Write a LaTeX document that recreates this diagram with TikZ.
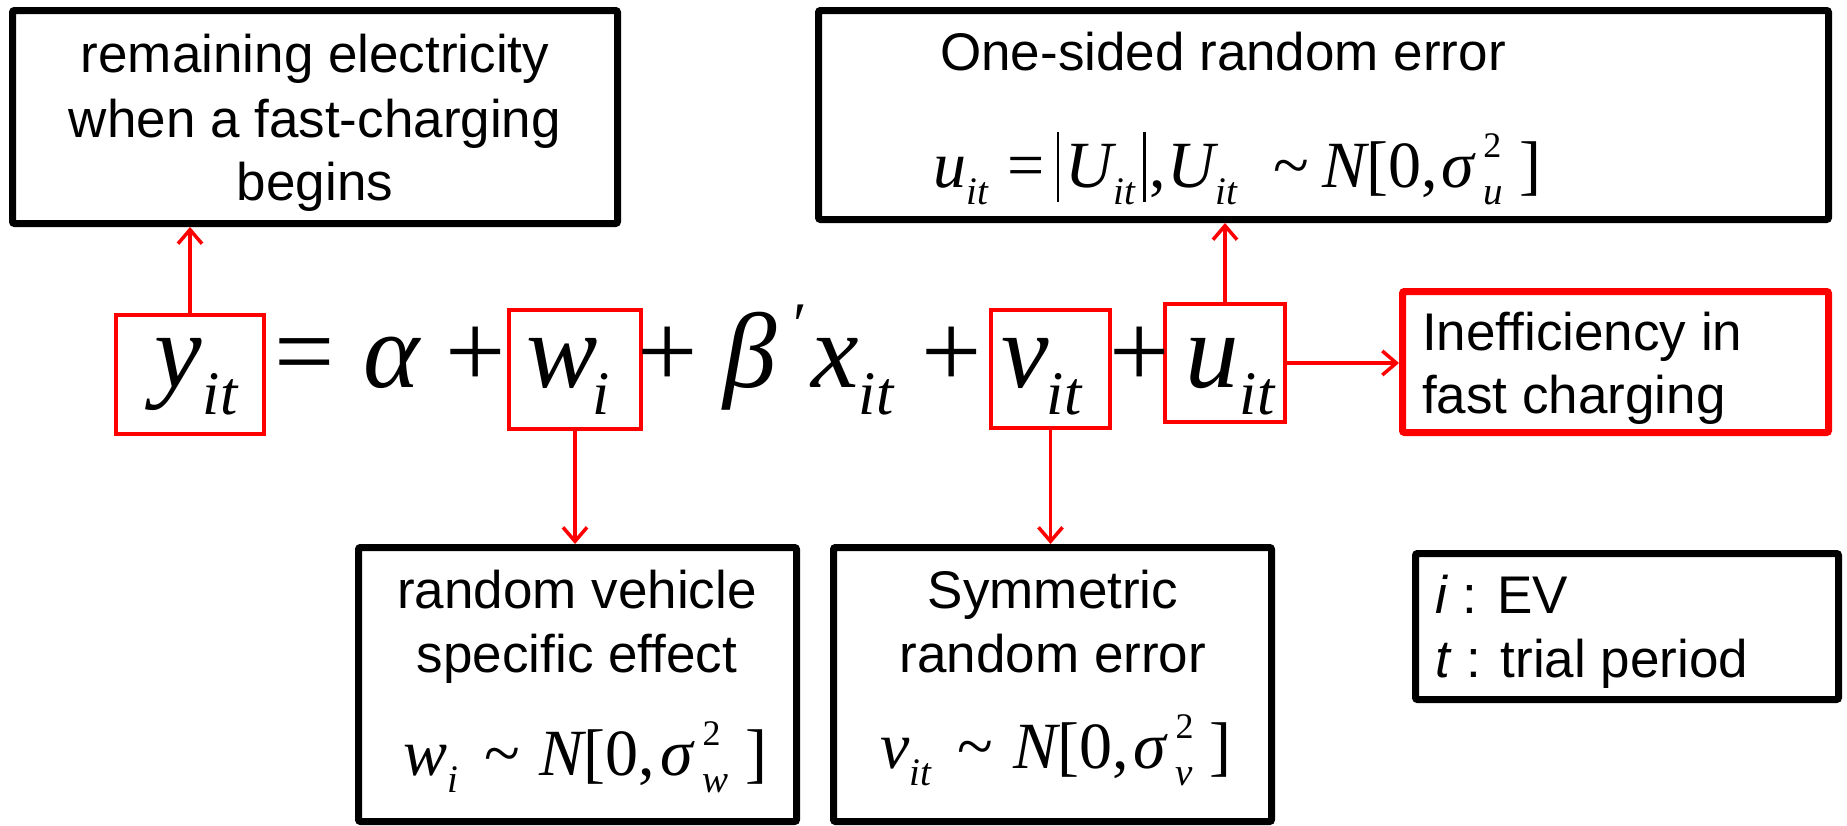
\documentclass[tikz,border=0pt]{standalone}
\usepackage{fontspec}
\setmainfont{Liberation Sans}
\newfontfamily\tms{Liberation Serif}
\usetikzlibrary{arrows.meta}
\newcommand\fsub[1]{\raisebox{-0.26em}{\fontsize{39}{39}\selectfont\itshape #1}}
\newcommand\fss[2]{\hspace{0.14em}\rlap{\raisebox{0.45em}{\fontsize{36}{36}\selectfont #1}}\raisebox{-0.27em}{\fontsize{39}{39}\selectfont\itshape #2}}
\newcommand\tld{\symbol{126}}
\newcommand\vbar{\hspace{0.06em}\rule[-15pt]{2.6pt}{70pt}\hspace{0.06em}}
\tikzset{
  blackbox/.style={draw=black, line width=7pt, rounded corners=2pt, inner sep=0pt, outer sep=0pt},
  redbox/.style={draw=red, line width=4pt, inner sep=0pt, outer sep=0pt},
  redbig/.style={draw=red, line width=7pt, rounded corners=2pt, inner sep=0pt, outer sep=0pt},
  arr/.style={draw=red, line width=3.5pt, -{Straight Barb[length=14pt,width=24pt]}},
  lbl/.style={inner sep=0pt, anchor=base, font=\fontsize{53}{60}\selectfont},
  lbll/.style={inner sep=0pt, anchor=base west, font=\fontsize{53}{60}\selectfont},
  eq/.style={inner sep=0pt, anchor=base, font=\tms\itshape\fontsize{107}{107}\selectfont},
  eqr/.style={inner sep=0pt, anchor=base, font=\tms\fontsize{107}{107}\selectfont},
  eqs/.style={inner sep=0pt, anchor=base, font=\tms\itshape\fontsize{62}{62}\selectfont},
  eqp/.style={inner sep=0pt, anchor=base, font=\tms\fontsize{62}{62}\selectfont},
  fm/.style={inner sep=0pt, anchor=base west, font=\tms\fontsize{66}{66}\selectfont},
}
\begin{document}
\begin{tikzpicture}[x=1pt,y=-1pt]
\useasboundingbox (0,0) rectangle (1847,825);
% boxes
\node[blackbox, minimum width=605pt, minimum height=213pt] (tl) at (315,117) {};
\node[blackbox, minimum width=1010pt, minimum height=209pt] (os) at (1323.5,115) {};
\node[redbig, minimum width=426pt, minimum height=141pt] (ineff) at (1615.5,362) {};
\node[blackbox, minimum width=438pt, minimum height=274pt] (rv) at (577.5,684.5) {};
\node[blackbox, minimum width=438pt, minimum height=274pt] (sym) at (1052.5,684.5) {};
\node[blackbox, minimum width=423pt, minimum height=146pt] (leg) at (1627,626.5) {};
\node[redbox, minimum width=148pt, minimum height=119pt] (by) at (190,374.5) {};
\node[redbox, minimum width=132pt, minimum height=119pt] (bw) at (575,369.5) {};
\node[redbox, minimum width=119pt, minimum height=118pt] (bv) at (1050.5,369) {};
\node[redbox, minimum width=120pt, minimum height=118pt] (bu) at (1225,363) {};
% connectors
\draw[arr, shorten >=3.5pt] (by.north) -- (by.north |- tl.south);
\draw[arr, shorten >=3.5pt] (bu.north) -- (bu.north |- os.south);
\draw[arr, shorten >=3.5pt] (bw.south) -- (bw.south |- rv.north);
\draw[arr, shorten >=3.5pt] (bv.south) -- (bv.south |- sym.north);
\draw[arr, shorten >=3.5pt] (bu.east) -- (bu.east -| ineff.west);
% box texts
\node[lbl] (tl1) at (315,72) {remaining electricity};
\node[lbl] (tl2) at (315,137) {when a fast-charging};
\node[lbl] (tl3) at (315,200) {begins};
\node[lbl] (os1) at (1223,70) {One-sided random error};
\node[fm] (os2) at (933,187) {{\itshape u}\fsub{it}\hspace{0.3em}=\hspace{0.12em}\vbar\hspace{0.04em}{\itshape U}\fsub{it}\hspace{0.06em}\vbar,\hspace{0.02em}{\itshape U}\fsub{it}\hspace{0.55em}\tld\hspace{0.2em}{\itshape N}[0,\hspace{0.06em}{\itshape σ}\fss{2}{u}\hspace{0.25em}]};
\node[lbll] (in1) at (1422,350) {Inefficiency in};
\node[lbll] (in2) at (1422,413) {fast charging};
\node[lbl] (rv1) at (577,608) {random vehicle};
\node[lbl] (rv2) at (577,672) {specific effect};
\node[fm] (rv3) at (403,775) {{\itshape w}\fsub{i}\hspace{0.4em}\tld\hspace{0.3em}{\itshape N}[0,\hspace{0.08em}{\itshape σ}\fss{2}{w}\hspace{0.25em}]};
\node[lbl] (sy1) at (1053,608) {Symmetric};
\node[lbl] (sy2) at (1053,672) {random error};
\node[fm] (sy3) at (880,768) {{\itshape v}\fsub{it}\hspace{0.4em}\tld\hspace{0.3em}{\itshape N}[0,\hspace{0.08em}{\itshape σ}\fss{2}{v}\hspace{0.25em}]};
\node[lbll] (lg1) at (1435,613) {\textit{i} : EV};
\node[lbll] (lg2) at (1435,677) {\textit{t} : trial period};
% equation
\node[eq] (ey) at (178,387) {y};
\node[eqs] (eyit) at (220,414) {it};
\node[eqr] (eeq) at (305,387) {=};
\node[eq] (ealpha) at (392,387) {α};
\node[eqr] (ep1) at (476,387) {+};
\node[eq] (ew) at (562,387) {w};
\node[eqs] (ewi) at (601,414) {i};
\node[eqr] (ep2) at (668,387) {+};
\node[eq] (ebeta) at (750,387) {β};
\node[eqp] (eprime) at (800,345) {′};
\node[eq] (ex) at (835,387) {x};
\node[eqs] (exit) at (876,414) {it};
\node[eqr] (ep3) at (952,387) {+};
\node[eq] (ev) at (1025,387) {v};
\node[eqs] (evit) at (1064,414) {it};
\node[eqr] (ep4) at (1140,387) {+};
\node[eq] (eu) at (1212,387) {u};
\node[eqs] (euit) at (1257,414) {it};
\end{tikzpicture}
\end{document}
